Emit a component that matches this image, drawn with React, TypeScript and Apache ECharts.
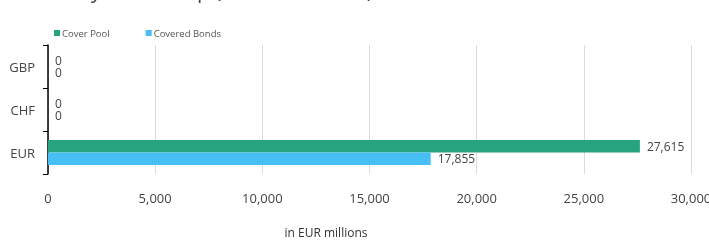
import React, { useEffect, useRef } from "react";
import * as echarts from "echarts";

const categories = ["GBP", "CHF", "EUR"];
const coverPool = [0, 0, 27615];
const coveredBonds = [0, 0, 17855];
const xTicks = { min: 0, max: 30000, interval: 5000 };
const titleText = "Currency Mix Group (in EUR millions)";
const axisName = "in EUR millions";

const FONT = "'Open Sans', 'Noto Sans', sans-serif";

const valueLabel = {
  show: true,
  position: "right",
  distance: 7,
  fontSize: 12,
  lineHeight: 11,
  color: "#444",
  fontFamily: FONT,
  formatter: (p: any) => Number(p.value).toLocaleString("en-US"),
};

export default function App() {
  const ref = useRef<HTMLDivElement>(null);
  useEffect(() => {
    const chart = echarts.init(ref.current!, null, { renderer: "svg" });
    chart.setOption({
      animation: false,
      textStyle: { fontFamily: FONT },
      legend: {
        left: 49,
        top: 23,
        itemWidth: 6,
        itemHeight: 6,
        itemGap: 36,
        icon: "rect",
        textStyle: { fontSize: 9.5, color: "#555", fontFamily: FONT, padding: [0, 0, 0, -3] },
        data: ["Cover Pool", "Covered Bonds"],
      },
      grid: { left: 48, right: 18, top: 45, bottom: 66, outerBoundsMode: "none", containLabel: false },
      xAxis: {
        type: "value",
        min: xTicks.min,
        max: xTicks.max,
        interval: xTicks.interval,
        axisLine: { show: false },
        axisTick: { show: false },
        splitLine: { lineStyle: { color: "#dcdcdc", width: 1 } },
        axisLabel: {
          fontSize: 13,
          color: "#444",
          margin: 17,
          fontFamily: FONT,
          hideOverlap: false,
          formatter: (v: number) => v.toLocaleString("en-US"),
        },
      },
      yAxis: {
        type: "category",
        inverse: true,
        data: categories,
        axisLine: { show: true, lineStyle: { color: "#000", width: 1.5 } },
        axisTick: { show: true, length: 5, lineStyle: { color: "#000" } },
        axisLabel: { fontSize: 13, color: "#444", margin: 13, fontFamily: FONT },
      },
      graphic: [
        {
          type: "text",
          x: 13,
          y: 0.5,
          style: {
            text: titleText,
            fontSize: 21,
            fill: "#444",
            fontFamily: FONT,
            verticalAlign: "bottom",
          },
        },
        {
          type: "text",
          x: 326,
          y: 232,
          style: {
            text: axisName,
            fontSize: 12,
            fill: "#333",
            fontFamily: FONT,
            align: "center",
            verticalAlign: "middle",
          },
        },
      ],
      series: [
        {
          name: "Cover Pool",
          type: "bar",
          data: coverPool,
          barGap: "0%",
          barCategoryGap: "42%",
          itemStyle: { color: "#28A380" },
          label: valueLabel,
        },
        {
          name: "Covered Bonds",
          type: "bar",
          data: coveredBonds,
          barGap: "0%",
          barCategoryGap: "42%",
          itemStyle: { color: "#47BFF5" },
          label: valueLabel,
        },
      ],
    });
    return () => chart.dispose();
  }, []);
  return (
    <div
      ref={ref}
      style={{ position: "fixed", left: 0, top: 0, width: 709, height: 240 }}
    />
  );
}
